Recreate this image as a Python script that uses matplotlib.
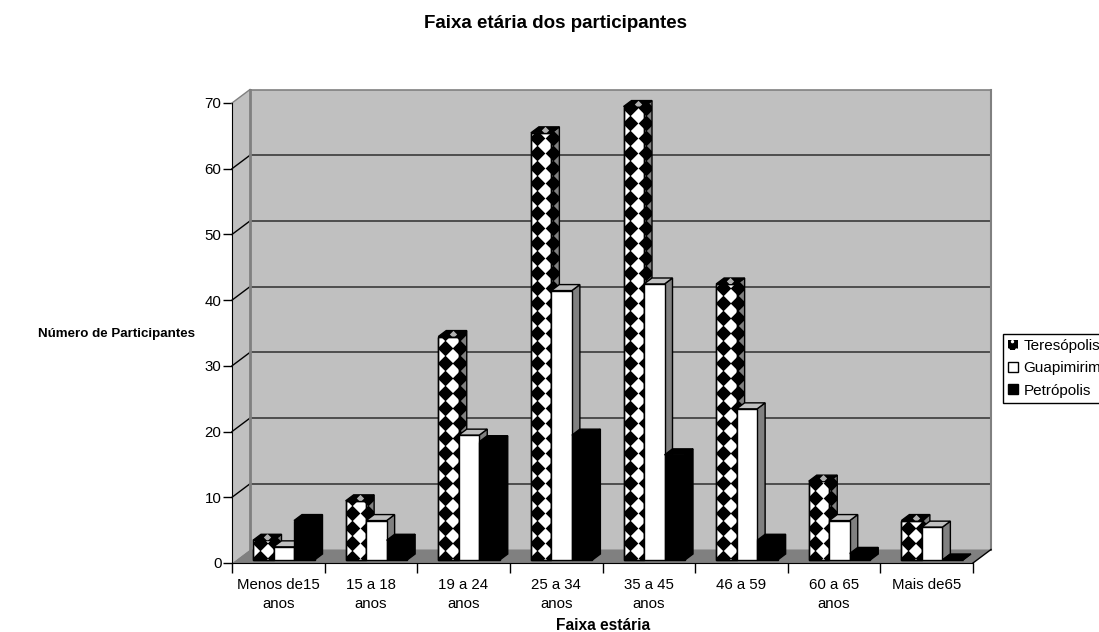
import numpy as np
import matplotlib
matplotlib.use('Agg')
import matplotlib.pyplot as plt
from matplotlib.patches import Polygon, Rectangle, Patch

plt.rcParams['font.family'] = ['Liberation Sans', 'DejaVu Sans']
plt.rcParams['hatch.linewidth'] = 1.2

faixas = ['Menos de15\nanos', '15 a 18\nanos', '19 a 24\nanos', '25 a 34\nanos',
          '35 a 45\nanos', '46 a 59', '60 a 65\nanos', 'Mais de65']
teresopolis = [3, 9, 34, 65, 69, 42, 12, 6]
guapimirim = [2, 6, 19, 41, 42, 23, 6, 5]
petropolis = [6, 3, 18, 19, 16, 3, 1, 0]
y_ticks = [0, 10, 20, 30, 40, 50, 60, 70]

W, H = 1099, 632
fig = plt.figure(figsize=(W / 100, H / 100), dpi=100)
ax = fig.add_axes([232 / W, (H - 563) / H, 741 / W, 460 / H])
ax.set_xlim(0, 8)
ax.set_ylim(0, 70)

# pixel sizes turned into data units
px = 8 / 741
py = 70 / 460
wall_dx, wall_dy = 18 * px, 13.5 * py
depth_dx, depth_dy = 8 * px, 6 * py
base_dy = 3 * py
bar_w = 20.5 * px
first = 21 * px


def poly(pts, z=1, **kw):
    p = Polygon(pts, closed=True, clip_on=False, zorder=z, **kw)
    ax.add_patch(p)
    return p


# walls and floor
poly([(wall_dx, wall_dy), (8 + wall_dx, wall_dy), (8 + wall_dx, 70 + wall_dy), (wall_dx, 70 + wall_dy)],
     facecolor='#c0c0c0', edgecolor='none')
poly([(0, 0), (wall_dx, wall_dy), (wall_dx, 70 + wall_dy), (0, 70)], facecolor='#c0c0c0', edgecolor='none')
poly([(0, 0), (8, 0), (8 + wall_dx, wall_dy), (wall_dx, wall_dy)], facecolor='#808080', edgecolor='none')

for v in y_ticks[1:]:
    col = '#808080' if v == 70 else '#3a3a3a'
    ax.plot([wall_dx, 8 + wall_dx], [v + wall_dy, v + wall_dy], color=col, lw=1.2, clip_on=False, zorder=2)
    ax.plot([0, wall_dx], [v, v + wall_dy], color='#808080' if v == 70 else 'black', lw=1, clip_on=False, zorder=2)
ax.plot([wall_dx, wall_dx], [wall_dy, 70 + wall_dy], color='#808080', lw=2, clip_on=False, zorder=2)
ax.plot([8 + wall_dx, 8 + wall_dx], [wall_dy, 70 + wall_dy], color='#808080', lw=1.5, clip_on=False, zorder=2)
ax.plot([8, 8 + wall_dx], [0, wall_dy], color='black', lw=1, clip_on=False, zorder=2)


def diamonds(patch, x0, x1, y0, y1, z):
    # black diamond tile laid over a bar face
    xs = np.arange(x0 + 6.5 * px, x1 + 8 * px, 15.5 * px)
    ys = np.arange(y0 + 2 * py, y1 + 8 * py, 15 * py)
    gx, gy = np.meshgrid(xs, ys)
    sc = ax.scatter(gx.ravel(), gy.ravel(), marker='D', s=64, c='black', linewidths=0, zorder=z)
    sc.set_clip_path(patch)


def bar_3d(x, v, face, top, side, z, pattern=False):
    x0 = x
    x1 = x0 + bar_w
    y0 = base_dy
    y1 = v + base_dy
    edge = 'black'
    f = Rectangle((x0, y0), bar_w, v, facecolor=face, edgecolor=edge, lw=1, zorder=z, clip_on=False)
    s = poly([(x1, y0), (x1 + depth_dx, y0 + depth_dy), (x1 + depth_dx, y1 + depth_dy), (x1, y1)],
             z=z, facecolor=side, edgecolor=edge, lw=1)
    t = poly([(x0, y1), (x0 + depth_dx, y1 + depth_dy), (x1 + depth_dx, y1 + depth_dy), (x1, y1)],
             z=z, facecolor=top, edgecolor=edge, lw=1)
    ax.add_patch(f)
    if pattern:
        diamonds(f, x0, x1, y0, y1, z + 0.1)
        diamonds(s, x0, x1 + depth_dx, y0, y1 + depth_dy, z + 0.1)
        ax.add_patch(Rectangle((x0, y0), bar_w, v, fill=False, edgecolor=edge, lw=1, zorder=z + 0.2, clip_on=False))
        mark = ax.scatter([x0 + bar_w / 2 + depth_dx / 2], [y1 + depth_dy / 2], marker='D', s=14, c='#b0b0b0',
                          linewidths=0, zorder=z + 0.2)
        mark.set_clip_path(t)


z = 3
for i in range(len(faixas)):
    x = i + first
    bar_3d(x, teresopolis[i], 'white', 'black', '#808080', z, pattern=True)
    bar_3d(x + bar_w, guapimirim[i], 'white', '#c0c0c0', '#808080', z + 1)
    bar_3d(x + 2 * bar_w, petropolis[i], 'black', 'black', 'black', z + 2)
    z += 3

# axes
for name in ['top', 'right']:
    ax.spines[name].set_visible(False)
ax.patch.set_visible(False)
ax.set_yticks(y_ticks)
ax.set_xticks(range(9))
ax.set_xticklabels([])
ax.set_xticks(np.arange(8) + 0.5, labels=faixas, minor=True)
ax.tick_params(axis='x', which='major', length=7, width=1)
ax.tick_params(axis='x', which='minor', length=0, pad=11, labelsize=10.8)
ax.tick_params(axis='y', length=6.5, width=1, labelsize=10.8, pad=1)
for lab in ax.get_xticklabels(minor=True):
    lab.set_linespacing(1.39)

fig.text(555 / W, 1 - 24 / H, 'Faixa etária dos participantes', ha='center', va='center',
         fontsize=13.5, fontweight='bold')
fig.text(38 / W, 1 - 334 / H, 'Número de Participantes', ha='left', va='center',
         fontsize=9.65, fontweight='bold')
fig.text(603 / W, 1 - 626 / H, 'Faixa estária', ha='center', va='center', fontsize=11.2, fontweight='bold')

handles = [Patch(facecolor='black', edgecolor='white', hatch='..', lw=0),
           Patch(facecolor='white', edgecolor='black', lw=1),
           Patch(facecolor='black', edgecolor='black', lw=1)]
leg = fig.legend(handles, ['Teresópolis', 'Guapimirim', 'Petrópolis'], loc='upper left',
                 bbox_to_anchor=(1003 / W, 1 - 334 / H), bbox_transform=fig.transFigure,
                 fontsize=11, frameon=True, fancybox=False, edgecolor='black', framealpha=1,
                 borderpad=0.35, labelspacing=0.53, handlelength=0.65, handleheight=0.65,
                 handletextpad=0.35, borderaxespad=0)
leg.get_frame().set_linewidth(1)

fig.savefig('out.png', dpi=100)
